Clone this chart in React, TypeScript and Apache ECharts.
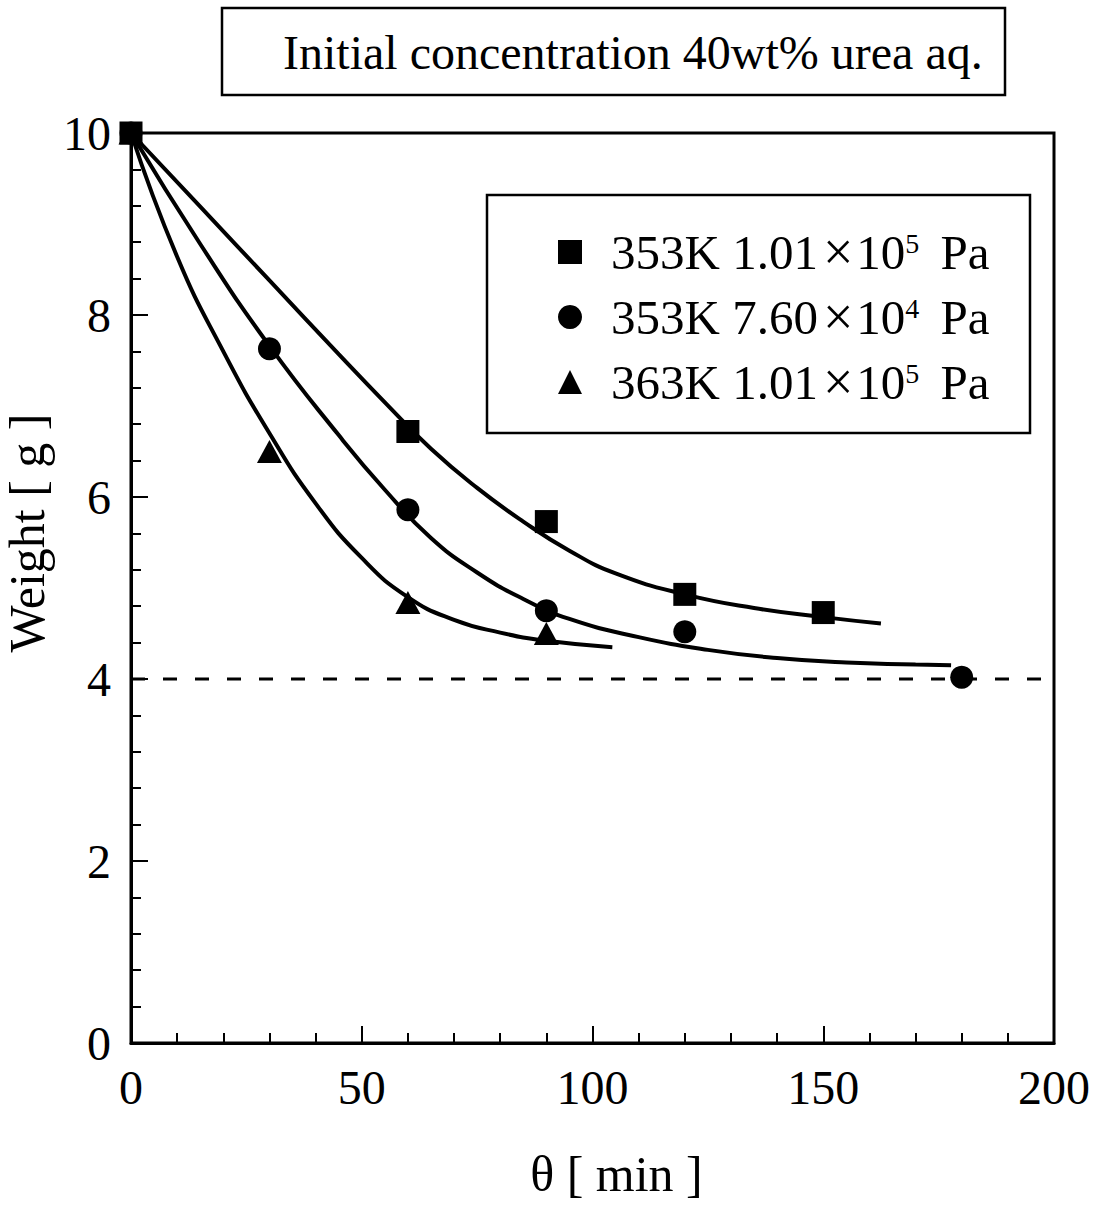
import React, { useEffect, useRef } from "react";
import * as echarts from "echarts";

const FONT = "'Liberation Serif', 'Times New Roman', serif";

const titleText = "Initial concentration 40wt% urea aq.";
const xName = "θ [ min ]";
const yName = "Weight [ g ]";

// Measured points
const sq353_101 = [[0, 10], [60, 6.72], [90, 5.73], [120, 4.93], [150, 4.73]];
const ci353_76 = [[0, 10], [30, 7.63], [60, 5.86], [90, 4.75], [120, 4.52], [180, 4.02]];
const tr363_101 = [[0, 10], [30, 6.5], [60, 4.84], [90, 4.5]];

// Fitted curves
const sqFit = [[0, 10], [15, 9.19], [30, 8.38], [45, 7.57], [55, 7.04], [65, 6.53], [75, 6.1], [85, 5.73], [95, 5.41], [105, 5.16], [120, 4.93], [135, 4.78], [150, 4.68], [162.5, 4.61]];
const ciFit = [[0, 10], [15, 8.78], [30, 7.66], [45, 6.68], [55, 6.08], [65, 5.55], [75, 5.17], [85, 4.88], [95, 4.66], [110, 4.46], [125, 4.32], [140, 4.23], [155, 4.18], [170, 4.16], [177.7, 4.15]];
const trFit = [[0, 10], [10, 8.64], [20, 7.6], [30, 6.7], [40, 5.93], [50, 5.33], [60, 4.9], [70, 4.65], [80, 4.51], [90, 4.42], [104.3, 4.35]];

const limitLine = [[0, 4], [200, 4]];

const seriesNames = ["353K 1.01×10^5 Pa", "353K 7.60×10^4 Pa", "363K 1.01×10^5 Pa"];

function legendFormatter(name: string): string {
  const m = name.match(/^(\S+) (\S+)×10\^(\d) Pa$/);
  if (!m) return name;
  return `{n|${m[1]} ${m[2]}}{x|×}{n|10}{s|${m[3]}}{n| Pa}`;
}

export default function App() {
  const ref = useRef<HTMLDivElement>(null);
  useEffect(() => {
    if (!ref.current) return;
    const chart = echarts.init(ref.current, undefined, { renderer: "svg" });
    const lineCommon = {
      type: "line",
      smooth: 0.5,
      showSymbol: false,
      symbol: "none",
      lineStyle: { color: "#000", width: 4 },
      silent: true,
      z: 2,
    };
    const markStyle = { color: "#000", opacity: 1 };
    chart.setOption({
      animation: false,
      backgroundColor: "#fff",
      textStyle: { fontFamily: FONT, color: "#000" },
      grid: {
        left: 131,
        top: 133,
        right: 44,
        bottom: 162,
        containLabel: false,
        outerBoundsMode: "none",
        show: true,
        borderColor: "#000",
        borderWidth: 3,
        backgroundColor: "transparent",
      },
      legend: {
        orient: "vertical",
        left: 553,
        top: 220,
        itemWidth: 24,
        itemHeight: 24,
        itemGap: 11,
        data: seriesNames,
        formatter: legendFormatter,
        itemStyle: { opacity: 1, color: "#000" },
        textStyle: {
          fontFamily: FONT,
          color: "#000",
          lineHeight: 46,
          rich: {
            n: { fontFamily: FONT, fontSize: 49, color: "#000", lineHeight: 46 },
            x: { fontFamily: FONT, fontSize: 54, color: "#000", lineHeight: 46, padding: [0, 3, 0, 5] },
            s: { fontFamily: FONT, fontSize: 28, color: "#000", verticalAlign: "top", lineHeight: 46, padding: [0, 9, 0, 0] },
          },
          padding: [0, 0, 0, 24],
        },
      },
      xAxis: {
        type: "value",
        min: 0,
        max: 200,
        interval: 50,
        name: xName,
        nameLocation: "middle",
        nameGap: 106,
        nameTextStyle: { fontFamily: FONT, fontSize: 50, color: "#000", padding: [0, 0, 0, 48] },
        axisLine: { show: true, lineStyle: { color: "#000", width: 3 } },
        axisTick: { show: true, inside: true, length: 17, lineStyle: { color: "#000", width: 2 } },
        minorTick: { show: true, splitNumber: 5, length: 10, lineStyle: { color: "#000", width: 2 } },
        splitLine: { show: false },
        axisLabel: { fontFamily: FONT, fontSize: 48, color: "#000", margin: 20 },
      },
      yAxis: {
        type: "value",
        min: 0,
        max: 10,
        interval: 2,
        name: yName,
        nameLocation: "middle",
        nameGap: 76,
        nameTextStyle: { fontFamily: FONT, fontSize: 50, color: "#000", padding: [0, 0, 0, 110] },
        axisLine: { show: true, lineStyle: { color: "#000", width: 3 } },
        axisTick: { show: true, inside: true, length: 17, lineStyle: { color: "#000", width: 2 } },
        minorTick: { show: true, splitNumber: 5, length: 10, lineStyle: { color: "#000", width: 2 } },
        splitLine: { show: false },
        axisLabel: { fontFamily: FONT, fontSize: 48, color: "#000", margin: 20 },
      },
      graphic: [
        {
          type: "rect",
          shape: { x: 222, y: 8, width: 783, height: 87 },
          style: { fill: "#fff", stroke: "#000", lineWidth: 2.5 },
        },
        {
          type: "text",
          x: 283,
          y: 52,
          style: {
            text: titleText,
            font: `48px ${FONT}`,
            fill: "#000",
            verticalAlign: "middle",
          },
        },
        {
          type: "rect",
          shape: { x: 487, y: 195, width: 543, height: 238 },
          style: { fill: "#fff", stroke: "#000", lineWidth: 2.5 },
          z: 0,
        },
      ],
      series: [
        { ...lineCommon, name: "fit-tr", data: trFit },
        { ...lineCommon, name: "fit-ci", data: ciFit },
        { ...lineCommon, name: "fit-sq", data: sqFit },
        {
          type: "line",
          name: "limit",
          data: limitLine,
          symbol: "none",
          lineStyle: { color: "#000", width: 3, type: [14, 18] },
          silent: true,
          z: 1,
        },
        {
          type: "scatter",
          name: seriesNames[2],
          data: tr363_101,
          symbol: "triangle",
          symbolSize: [25, 23],
          itemStyle: markStyle,
          clip: false,
          z: 3,
        },
        {
          type: "scatter",
          name: seriesNames[1],
          data: ci353_76,
          symbol: "circle",
          symbolSize: 23,
          itemStyle: markStyle,
          clip: false,
          z: 4,
        },
        {
          type: "scatter",
          name: seriesNames[0],
          data: sq353_101,
          symbol: "rect",
          symbolSize: 23,
          itemStyle: markStyle,
          clip: false,
          z: 5,
        },
      ],
    });
    return () => chart.dispose();
  }, []);
  return (
    <div
      ref={ref}
      style={{ position: "fixed", left: 0, top: 0, width: 1098, height: 1205, background: "#fff" }}
    />
  );
}
